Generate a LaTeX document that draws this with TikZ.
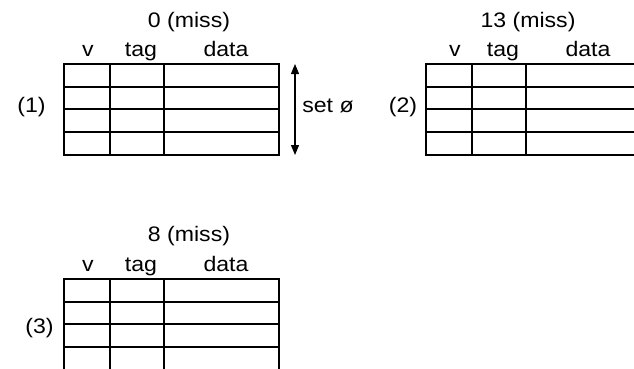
\documentclass[tikz,border=0pt]{standalone}
\usepackage{fontspec}
\setmainfont{Liberation Sans}[FakeStretch=1.1]
\usetikzlibrary{arrows.meta}
\tikzset{
  lbl/.style={anchor=base, inner sep=0pt, font=\fontsize{21}{25}\selectfont},
  outer/.style={line width=1.3pt},
  inner/.style={line width=2pt},
  dbl/.style={line width=1.2pt, {Triangle[length=10pt,width=8pt]}-{Triangle[length=10pt,width=8pt]}}
}
\begin{document}
\begin{tikzpicture}[x=1pt,y=-1pt]
\clip (0,0) rectangle (634,369);
\fill[white] (0,0) rectangle (634,369);
% table 1
\draw[inner] (64,86.5) -- (279,86.5) (64,109) -- (279,109) (64,132) -- (279,132)
  (110,64) -- (110,155) (164,64) -- (164,155);
\draw[outer] (64,64) rectangle (279,155);
% table 2
\draw[inner] (426,86.5) -- (641,86.5) (426,109) -- (641,109) (426,132) -- (641,132)
  (472,64) -- (472,155) (526,64) -- (526,155);
\draw[outer] (426,64) rectangle (641,155);
% table 3
\draw[inner] (64,301.7) -- (279,301.7) (64,324.3) -- (279,324.3) (64,347) -- (279,347)
  (110,279) -- (110,380) (164,279) -- (164,380);
\draw[outer] (64,380) -- (64,279) -- (279,279) -- (279,380);
% texts
\node[lbl] (t1) at (189,28) {0 (miss)};
\node[lbl] (v1) at (88,56.5) {v};
\node[lbl] (g1) at (141,56.5) {tag};
\node[lbl] (d1) at (226,56.5) {data};
\node[lbl] (n1) at (31.5,112) {(1)};
\node[lbl] (t2) at (528,28) {13 (miss)};
\node[lbl] (v2) at (455,56.5) {v};
\node[lbl] (g2) at (503,56.5) {tag};
\node[lbl] (d2) at (588,56.5) {data};
\node[lbl] (n2) at (403,112) {(2)};
\node[lbl] (s) at (328,112) {set ø};
\node[lbl] (t3) at (189,241) {8 (miss)};
\node[lbl] (v3) at (88,271.5) {v};
\node[lbl] (g3) at (141,271.5) {tag};
\node[lbl] (d3) at (226,271.5) {data};
\node[lbl] (n3) at (39.5,333) {(3)};
% arrow
\coordinate (a1) at (295,64);
\coordinate (a2) at (295,155);
\draw[dbl] (a1) -- (a2);
\end{tikzpicture}
\end{document}
